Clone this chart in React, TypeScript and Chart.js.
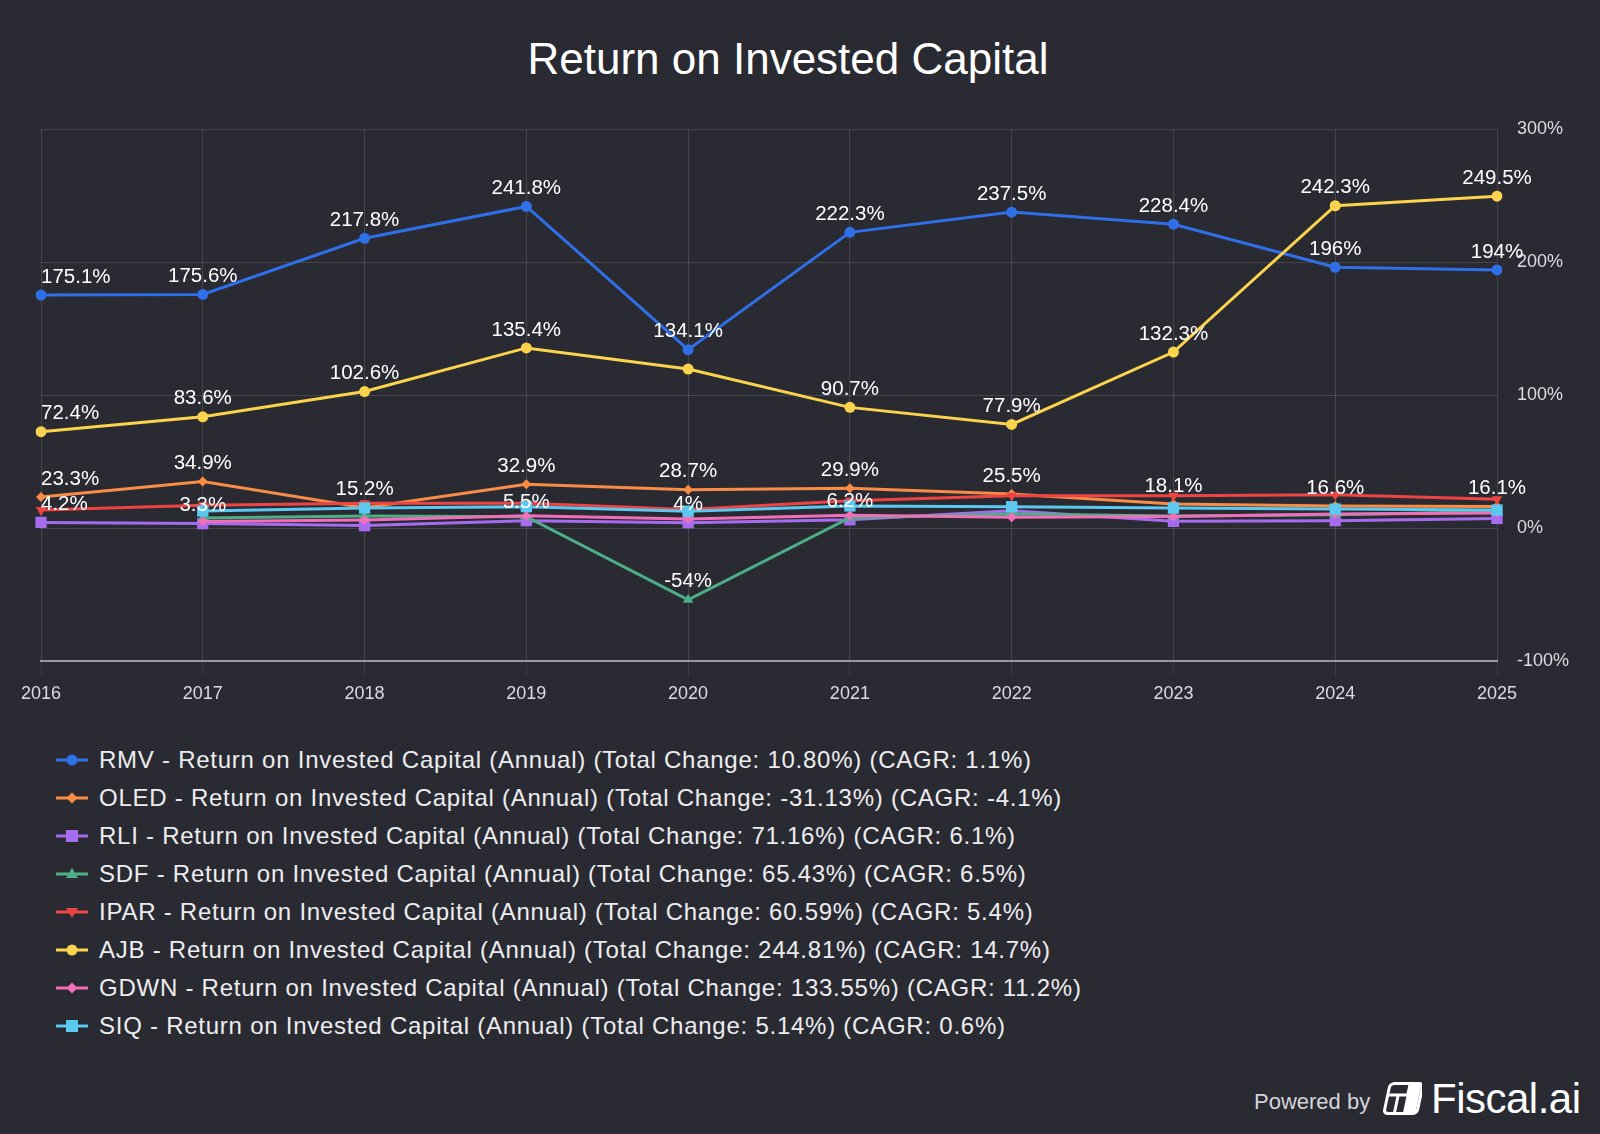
import React, { useEffect, useRef } from 'react';
import { Chart, registerables } from 'chart.js';

Chart.register(...registerables);

const years = ['2016', '2017', '2018', '2019', '2020', '2021', '2022', '2023', '2024', '2025'];

const tickers = ['RMV', 'OLED', 'RLI', 'SDF', 'IPAR', 'AJB', 'GDWN', 'SIQ'];
const totalChanges = ['10.80%', '-31.13%', '71.16%', '65.43%', '60.59%', '244.81%', '133.55%', '5.14%'];
const cagrs = ['1.1%', '-4.1%', '6.1%', '6.5%', '5.4%', '14.7%', '11.2%', '0.6%'];

const rmv = [175.1, 175.6, 217.8, 241.8, 134.1, 222.3, 237.5, 228.4, 196, 194];
const oled = [23.3, 34.9, 15.2, 32.9, 28.7, 29.9, 25.5, 18.1, 16.6, 16.1];
const rli = [4.2, 3.3, 1.8, 5.5, 4, 6.2, 13.0, 5.0, 5.5, 7.2];
const sdf = [null, 7.5, 9.0, 8.5, -54, 7.8, 10.5, 9.0, 10.0, 12.4];
const ipar = [13.5, 17.1, 18.7, 18.7, 14.0, 20.5, 24.3, 24.3, 25.0, 21.7];
const ajb = [72.4, 83.6, 102.6, 135.4, 119.5, 90.7, 77.9, 132.3, 242.3, 249.5];
const gdwn = [null, 4.8, 6.0, 9.2, 6.8, 9.5, 8.0, 8.7, 10.5, 11.2];
const siq = [null, 12.8, 15.0, 16.0, 12.6, 16.6, 16.0, 15.0, 14.2, 13.5];

const seriesValues = [rmv, oled, rli, sdf, ipar, ajb, gdwn, siq];
const seriesColors = ['#2f6fe8', '#f98d47', '#a66cf0', '#4caf87', '#ef4444', '#fcd34d', '#f06fb8', '#5bc8f0'];
const seriesShapes = ['circle', 'rectRot', 'rect', 'triangle', 'triangleDown', 'circle', 'rectRot', 'rect'];

const yTicks = [300, 200, 100, 0, -100];

const BG = '#2a2b32';
const FONT = '"Liberation Sans", Arial, Helvetica, sans-serif';

const pointRadiusFor = (shape: string) =>
  shape === 'rect' ? 8 : shape === 'circle' ? 5.5 : shape === 'rectRot' ? 5 : 6;

const labelPlugin = {
  id: 'pointValueLabels',
  afterDatasetsDraw(chart: any) {
    const ctx = chart.ctx;
    ctx.save();
    ctx.font = `20.5px ${FONT}`;
    ctx.fillStyle = '#ffffff';
    ctx.textBaseline = 'middle';
    const boxes: { l: number; r: number; t: number; b: number }[] = [];
    chart.data.datasets.forEach((ds: any, di: number) => {
      const meta = chart.getDatasetMeta(di);
      meta.data.forEach((pt: any, i: number) => {
        const v = ds.data[i];
        if (v === null || v === undefined) return;
        const text = `${v}%`;
        const w = ctx.measureText(text).width;
        const first = i === 0;
        const cx = first ? pt.x + w / 2 : pt.x;
        const cy = pt.y - 18;
        const box = { l: cx - w / 2, r: cx + w / 2, t: cy - 12.5, b: cy + 12.5 };
        const hit = boxes.some((b) => !(box.r < b.l || box.l > b.r || box.b < b.t || box.t > b.b));
        if (hit) return;
        boxes.push(box);
        ctx.textAlign = 'center';
        ctx.fillText(text, cx, cy);
      });
    });
    ctx.restore();
  },
};

function Marker({ color, shape }: { color: string; shape: string }) {
  const cx = 16;
  const cy = 10;
  let s: React.ReactNode = null;
  if (shape === 'circle') s = <circle cx={cx} cy={cy} r={5.5} fill={color} />;
  else if (shape === 'rectRot')
    s = <polygon points={`${cx},${cy - 5.5} ${cx + 5.5},${cy} ${cx},${cy + 5.5} ${cx - 5.5},${cy}`} fill={color} />;
  else if (shape === 'rect') s = <rect x={cx - 6} y={cy - 6} width={12} height={12} fill={color} />;
  else if (shape === 'triangle')
    s = <polygon points={`${cx},${cy - 6} ${cx + 6},${cy + 4} ${cx - 6},${cy + 4}`} fill={color} />;
  else if (shape === 'triangleDown')
    s = <polygon points={`${cx},${cy + 6} ${cx + 6},${cy - 4} ${cx - 6},${cy - 4}`} fill={color} />;
  return (
    <svg width={32} height={20} style={{ display: 'block', flex: '0 0 auto' }}>
      <line x1={0} y1={cy} x2={32} y2={cy} stroke={color} strokeWidth={3} />
      {s}
    </svg>
  );
}

export default function App() {
  const canvasRef = useRef<HTMLCanvasElement | null>(null);

  useEffect(() => {
    if (!canvasRef.current) return;
    const datasets = tickers.map((t, i) => {
      const shape = seriesShapes[i];
      const isDown = shape === 'triangleDown';
      return {
        label: t,
        data: seriesValues[i],
        borderColor: seriesColors[i],
        backgroundColor: seriesColors[i],
        borderWidth: 3,
        pointStyle: isDown ? 'triangle' : shape,
        rotation: isDown ? 180 : 0,
        pointRadius: pointRadiusFor(shape),
        pointBorderWidth: 0,
        pointBackgroundColor: seriesColors[i],
        tension: 0,
        spanGaps: false,
        order: -i,
      };
    });

    const chart = new Chart(canvasRef.current, {
      type: 'line',
      data: { labels: years, datasets: datasets as any },
      plugins: [labelPlugin as any],
      options: {
        animation: false,
        responsive: true,
        maintainAspectRatio: false,
        layout: { padding: { left: 41, right: 0, top: 129, bottom: 0 } },
        plugins: {
          legend: { display: false },
          title: { display: false },
          tooltip: { enabled: false },
        },
        scales: {
          x: {
            type: 'category',
            offset: false,
            grid: {
              color: 'rgba(255,255,255,0.13)',
              lineWidth: 1,
              drawTicks: true,
              tickLength: 15,
              tickColor: 'rgba(255,255,255,0.08)',
            },
            border: { display: true, color: '#9a9ba2', width: 2 },
            ticks: {
              color: '#dcdce0',
              font: { size: 18, family: FONT },
              padding: 7,
              maxRotation: 0,
              autoSkip: false,
            },
            afterFit: (s: any) => {
              s.height = 59;
            },
          },
          y: {
            position: 'right',
            min: -100,
            max: 300,
            afterBuildTicks: (s: any) => {
              s.ticks = yTicks.map((v) => ({ value: v }));
            },
            grid: {
              color: 'rgba(255,255,255,0.13)',
              lineWidth: 1,
              drawTicks: false,
            },
            border: { display: false },
            ticks: {
              color: '#dcdce0',
              font: { size: 18, family: FONT },
              padding: 20,
              callback: (v: any) => `${v}%`,
            },
            afterFit: (s: any) => {
              s.width = 103;
            },
          },
        },
      },
    });
    return () => chart.destroy();
  }, []);

  return (
    <div
      style={{
        position: 'absolute',
        left: 0,
        top: 0,
        width: 1600,
        height: 1134,
        background: BG,
        overflow: 'hidden',
        fontFamily: FONT,
      }}
    >
      <div
        style={{
          position: 'absolute',
          left: 0,
          top: 34,
          width: 1576,
          textAlign: 'center',
          color: '#ffffff',
          fontSize: 44,
          lineHeight: '50px',
        }}
      >
        Return on Invested Capital
      </div>
      <div style={{ position: 'absolute', left: 0, top: 0, width: 1600, height: 720 }}>
        <canvas ref={canvasRef} />
      </div>
      <div style={{ position: 'absolute', left: 56, top: 741 }}>
        {tickers.map((t, i) => (
          <div key={t} style={{ display: 'flex', alignItems: 'center', height: 38 }}>
            <Marker color={seriesColors[i]} shape={seriesShapes[i]} />
            <span
              style={{
                marginLeft: 11,
                color: '#ededf0',
                fontSize: 24,
                letterSpacing: 0.75,
                whiteSpace: 'nowrap',
              }}
            >
              {`${t} - Return on Invested Capital (Annual) (Total Change: ${totalChanges[i]}) (CAGR: ${cagrs[i]})`}
            </span>
          </div>
        ))}
      </div>
      <div
        style={{
          position: 'absolute',
          left: 1254,
          top: 1088,
          color: '#d4d4da',
          fontSize: 22,
          lineHeight: '28px',
          whiteSpace: 'nowrap',
        }}
      >
        Powered by
      </div>
      <svg
        width={40}
        height={34}
        viewBox="0 0 40 34"
        style={{ position: 'absolute', left: 1382, top: 1082 }}
      >
        <g transform="skewX(-12) translate(7,0)">
          <rect x={1.5} y={1.5} width={33} height={30} rx={4} fill="none" stroke="#ffffff" strokeWidth={3} />
          <rect x={20} y={3} width={13} height={9} fill="#ffffff" />
          <line x1={3} y1={13} x2={33} y2={13} stroke="#ffffff" strokeWidth={3} />
          <line x1={12} y1={13} x2={12} y2={30} stroke="#ffffff" strokeWidth={3} />
          <line x1={22} y1={13} x2={22} y2={30} stroke="#ffffff" strokeWidth={3} />
          <rect x={23} y={14} width={10} height={16} fill="#ffffff" />
        </g>
      </svg>
      <div
        style={{
          position: 'absolute',
          left: 1431,
          top: 1074,
          color: '#ffffff',
          fontSize: 42,
          fontWeight: 500,
          lineHeight: '50px',
          whiteSpace: 'nowrap',
          letterSpacing: -0.5,
        }}
      >
        Fiscal.ai
      </div>
    </div>
  );
}
